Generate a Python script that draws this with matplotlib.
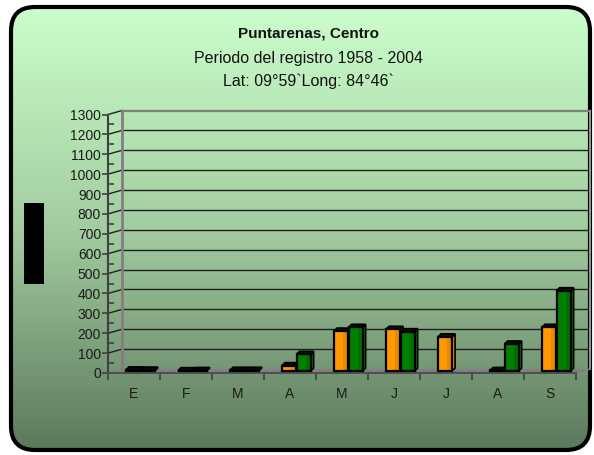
import numpy as np
import matplotlib
matplotlib.use("Agg")
import matplotlib.pyplot as plt
from matplotlib.patches import FancyBboxPatch, Rectangle, Polygon

plt.rcParams['font.family'] = ['Liberation Sans', 'DejaVu Sans']

# data (mm)
months = ['E', 'F', 'M', 'A', 'M', 'J', 'J', 'A', 'S']
serie_1 = [6, 2, 4, 27, 201, 210, 172, 3, 220]
serie_2 = [5, 3, 4, 84, 220, 198, np.nan, 136, 404]
yticks = list(range(0, 1301, 100))

title = 'Puntarenas, Centro'
sub1 = 'Periodo del registro 1958 - 2004'
sub2 = 'Lat: 09°59`Long: 84°46`'

W, H = 594, 455
fig = plt.figure(figsize=(W / 100, H / 100), dpi=100)
fig.patch.set_facecolor('white')

# background with rounded border and gradient
bg = fig.add_axes([0, 0, 1, 1])
bg.set_xlim(0, W)
bg.set_ylim(H, 0)
bg.axis('off')
r = 24
box = FancyBboxPatch((11 + r, 7 + r), 579 - 2 * r, 443 - 2 * r,
                     boxstyle='round,pad=%d' % r, fc='none', ec='black', lw=3, zorder=3)
bg.add_patch(box)
ys = np.linspace(0, H, 300)
stops_y = [5, 230, 450]
grad = np.stack([np.interp(ys, stops_y, [204, 162, 92]),
                 np.interp(ys, stops_y, [255, 204, 120]),
                 np.interp(ys, stops_y, [204, 160, 92])], axis=1) / 255.0
im = bg.imshow(grad[:, None, :], extent=[0, W, H, 0], aspect='auto', zorder=1)
im.set_clip_path(box)
bg.add_patch(Rectangle((24, 203), 20, 81, fc='black', ec='none', zorder=4))

# main plot
ax = fig.add_axes([108 / W, (H - 373) / H, (576 - 108) / W, (373 - 114.5) / H])
ax.patch.set_alpha(0)
ax.set_xlim(0, 9)
ax.set_ylim(0, 1300)
for s in ['top', 'right']:
    ax.spines[s].set_visible(False)
ax.spines['left'].set_color('#404040')
ax.spines['left'].set_linewidth(1.5)
ax.spines['bottom'].set_color('#505050')
ax.spines['bottom'].set_linewidth(1.5)

ddx, ddy = 0.27, 20   # depth of the 3d box
# floor
ax.add_patch(Polygon([(0, 0), (9, 0), (9 + ddx, ddy), (ddx, ddy)], closed=True,
                     fc='#808080', ec='none', zorder=1, clip_on=False))
# back wall grid
for v in yticks[1:]:
    c = '#808080' if v == yticks[-1] else '#202020'
    lw = 1.6 if v == yticks[-1] else 1
    ax.plot([ddx, 9 + ddx], [v + ddy, v + ddy], color=c, lw=lw, zorder=1, clip_on=False)
    ax.plot([0, ddx], [v, v + ddy], color='#202020', lw=1, zorder=1, clip_on=False)
ax.plot([ddx, ddx], [ddy, 1300 + ddy], color='#808080', lw=2, zorder=1, clip_on=False)
ax.plot([9 + ddx, 9 + ddx], [ddy, 1300 + ddy], color='#909090', lw=1.5, zorder=1, clip_on=False)
ax.plot([9, 9 + ddx], [0, ddy], color='#808080', lw=1, zorder=1, clip_on=False)

# bars
w = 0.27
base = ddy / 2
tdx, tdy = 0.06, 15


def bar3d(x0, v, light, dark):
    if np.isnan(v):
        return
    top = base + v
    ax.add_patch(Polygon([(x0 + w, base), (x0 + w + tdx, base + tdy), (x0 + w + tdx, top + tdy),
                          (x0 + w, top)], closed=True, fc=dark, ec='black', lw=1.2, zorder=3, clip_on=False))
    ax.add_patch(Polygon([(x0, top), (x0 + w, top), (x0 + w + tdx, top + tdy), (x0 + tdx, top + tdy)],
                         closed=True, fc='#101010', ec='black', lw=1.2, zorder=3, clip_on=False))
    ax.add_patch(Rectangle((x0, base), w, v, fc=light, ec='none', zorder=4, clip_on=False))
    ax.add_patch(Rectangle((x0 + w * 0.65, base), w * 0.35, v, fc=dark, ec='none', zorder=4, clip_on=False))
    ax.add_patch(Rectangle((x0, base), w, v, fc='none', ec='black', lw=1.6, zorder=5, clip_on=False))


for i in range(len(months)):
    bar3d(i + 0.48 - w / 2, serie_1[i], '#FF9900', '#E88A00')
    bar3d(i + 0.76 - w / 2, serie_2[i], '#008000', '#006F00')

# axes ticks
ax.set_yticks(yticks)
ax.set_yticks([v + 50 for v in yticks[:-1]], minor=True)
ax.tick_params(axis='y', which='major', direction='out', length=4, width=1.2,
               color='#404040', labelsize=10, pad=1, labelcolor='#1a1a1a')
ax.tick_params(axis='y', which='minor', direction='in', length=4, width=1.2, color='#404040')
ax.set_xticks(range(10))
ax.set_xticklabels([])
ax.set_xticks([i + 0.5 for i in range(len(months))], minor=True)
ax.set_xticklabels(months, minor=True)
ax.tick_params(axis='x', which='major', direction='out', length=5, width=1.2, color='#404040')
ax.tick_params(axis='x', which='minor', length=0, pad=10, labelsize=10, labelcolor='#1a1a1a')

# titles
cx = 308 / W
fig.text(cx, 1 - 33 / H, title, ha='center', va='center', fontsize=11, fontweight='bold', color='#111111')
fig.text(cx, 1 - 59 / H, sub1, ha='center', va='center', fontsize=11.5, color='#111111')
fig.text(cx, 1 - 81 / H, sub2, ha='center', va='center', fontsize=11.5, color='#111111')

fig.savefig('out.png', dpi=100)
